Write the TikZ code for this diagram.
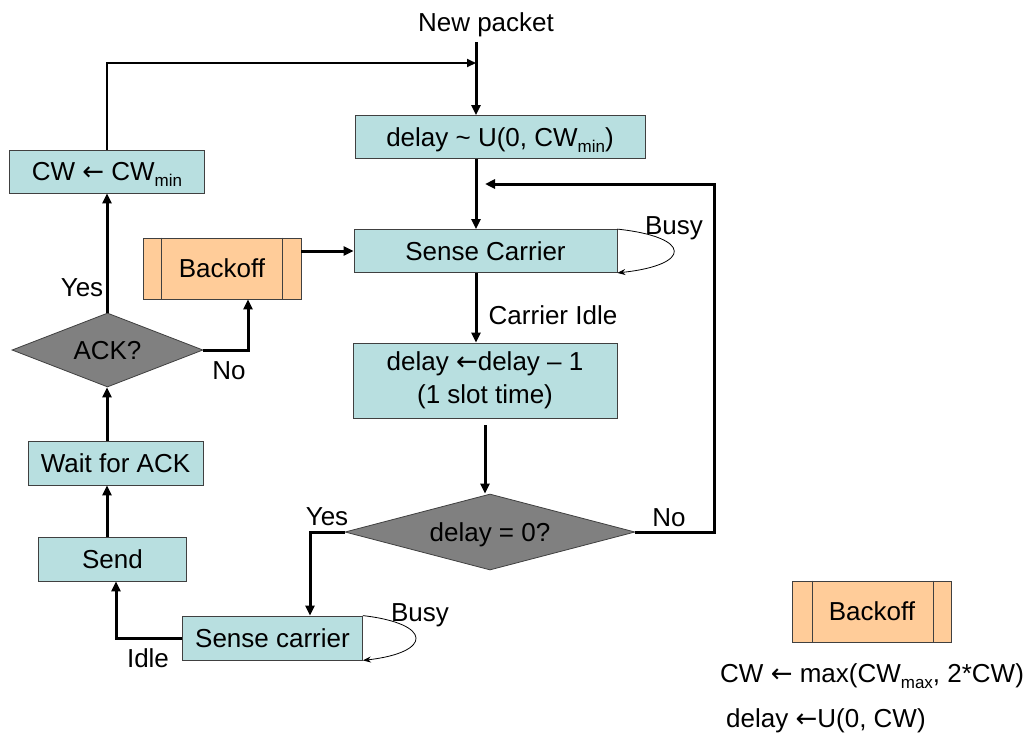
\documentclass[tikz,border=0pt]{standalone}
\usepackage{fontspec}
\setmainfont{Liberation Sans}
\newfontfamily\symfont{DejaVu Sans}
\usetikzlibrary{shapes.geometric,arrows.meta,calc}
\definecolor{boxfill}{HTML}{B8DFE0}
\definecolor{peach}{HTML}{FFCC99}
\definecolor{decgray}{HTML}{808080}
\definecolor{edge}{HTML}{404040}
\newcommand\lar{{\symfont\char"2190}}
\newcommand\lowsub[1]{\raisebox{-0.45ex}{\fontsize{17}{17}\selectfont #1}}
\begin{document}
\begin{tikzpicture}[x=1pt,y=-1pt,
  every node/.style={font=\fontsize{26}{30}\selectfont, inner sep=0pt, text height=18.5pt, text depth=0pt},
  proc/.style={draw=edge, line width=0.8pt, fill=boxfill, rectangle, anchor=center},
  decision/.style={draw=edge, line width=0.8pt, fill=decgray, diamond, anchor=center},
  subproc/.style={draw=edge, line width=0.8pt, fill=peach, rectangle, anchor=center},
  flow/.style={line width=3pt, -{Triangle[length=10pt,width=9pt]}},
  thinflow/.style={line width=2pt, -{Triangle[length=9pt,width=8pt]}},
  selfloop/.style={line width=0.8pt, -{Stealth[length=8pt,width=6pt]}},
  lbl/.style={anchor=center}]
\useasboundingbox (0,0) rectangle (1035,734);

% nodes of the main flow
\node[lbl] (np) at (486,22) {New packet};
\node[proc, minimum width=290, minimum height=43] (dly) at (500,137) {delay \textasciitilde{} U(0, CW\lowsub{min})};
\node[proc, minimum width=263, minimum height=43] (sc1) at (485.5,251) {Sense Carrier};
\node[proc, minimum width=264, minimum height=75, align=center, text height=, text depth=,
  font=\fontsize{26}{33}\selectfont] (dec) at (485,380.5) {delay \lar delay -- 1\\(1 slot time)};
\node[decision, shape aspect=3.8, minimum width=290, minimum height=76] (dz) at (490,532) {delay = 0?};
\node[proc, minimum width=180, minimum height=44] (sc2) at (272.5,638) {Sense carrier};
\node[proc, minimum width=148, minimum height=44] (send) at (112.5,559) {Send};
\node[proc, minimum width=175, minimum height=44] (wait) at (115.5,463) {Wait for ACK};
\node[decision, shape aspect=2.58, minimum width=191, minimum height=74] (ack) at (107.5,350) {ACK?};
\node[proc, minimum width=195, minimum height=43] (cw) at (107,171.5) {CW \lar{} CW\lowsub{min}};
\node[subproc, minimum width=158, minimum height=61] (bo) at (222,268.5) {Backoff};
\draw[edge, line width=0.8pt] ($(bo.north west)+(19,0)$) -- ($(bo.south west)+(19,0)$)
  ($(bo.north east)+(-19,0)$) -- ($(bo.south east)+(-19,0)$);

% helper coordinates for the connector columns
\coordinate (top) at (476,42);
\coordinate (join) at (476,63);
\coordinate (mid) at (485,0);
\coordinate (ret) at (485,184);
\coordinate (rcol) at (714,0);
\coordinate (ycol) at (310,0);
\coordinate (lcol) at (107,0);
\coordinate (icol) at (116,0);
\coordinate (ncol) at (248,0);

% main column
\draw[flow] (top) -- (top |- dly.north);
\draw[thinflow] (cw.north -| lcol) |- (join);
\draw[flow] (top |- dly.south) -- (top |- sc1.north);
\draw[flow] (top |- sc1.south) -- (top |- dec.north);
\node[lbl] (ci) at (553,315) {Carrier Idle};
\draw[selfloop] (sc1.north east) .. controls +(75,8) and +(75,-8) .. (sc1.south east);
\node[lbl] (busy1) at (674,225) {Busy};
\draw[flow] ($(dec.south -| mid)+(0,7)$) -- (dz.north -| mid);

% no-branch returning to the sense step
\draw[flow] (dz.east) -- (dz.east -| rcol) -- (rcol |- ret) -- (ret);
\node[lbl] (no1) at (669,517) {No};

% yes-branch to the second sense step
\draw[flow] (dz.west) -- (dz.west -| ycol) -- (ycol |- sc2.north);
\node[lbl] (yes1) at (327,516) {Yes};
\draw[selfloop] (sc2.north east) .. controls +(70,8) and +(70,-8) .. (sc2.south east);
\node[lbl] (busy2) at (420,612) {Busy};
\draw[flow] (sc2.west) -| (icol |- send.south);
\node[lbl] (idle) at (148,658) {Idle};

% left column
\draw[flow] (send.north -| lcol) -- (wait.south -| lcol);
\draw[flow] (wait.north -| lcol) -- (ack.south -| lcol);
\draw[flow] (ack.north -| lcol) -- (cw.south -| lcol);
\node[lbl] (yes2) at (82,287) {Yes};
\draw[flow] (ack.east) -| (ncol |- bo.south);
\node[lbl] (no2) at (229,370) {No};
\draw[flow] (bo.east |- sc1.west) -- (sc1.west);

% legend
\node[subproc, minimum width=159, minimum height=61] (bol) at (872,611.5) {Backoff};
\draw[edge, line width=0.8pt] ($(bol.north west)+(20,0)$) -- ($(bol.south west)+(20,0)$)
  ($(bol.north east)+(-19,0)$) -- ($(bol.south east)+(-19,0)$);
\node[anchor=west] (lg1) at (720,673) {CW \lar{} max(CW\lowsub{max}, 2*CW)};
\node[anchor=west] (lg2) at (726,718) {delay \lar U(0, CW)};
\end{tikzpicture}
\end{document}
